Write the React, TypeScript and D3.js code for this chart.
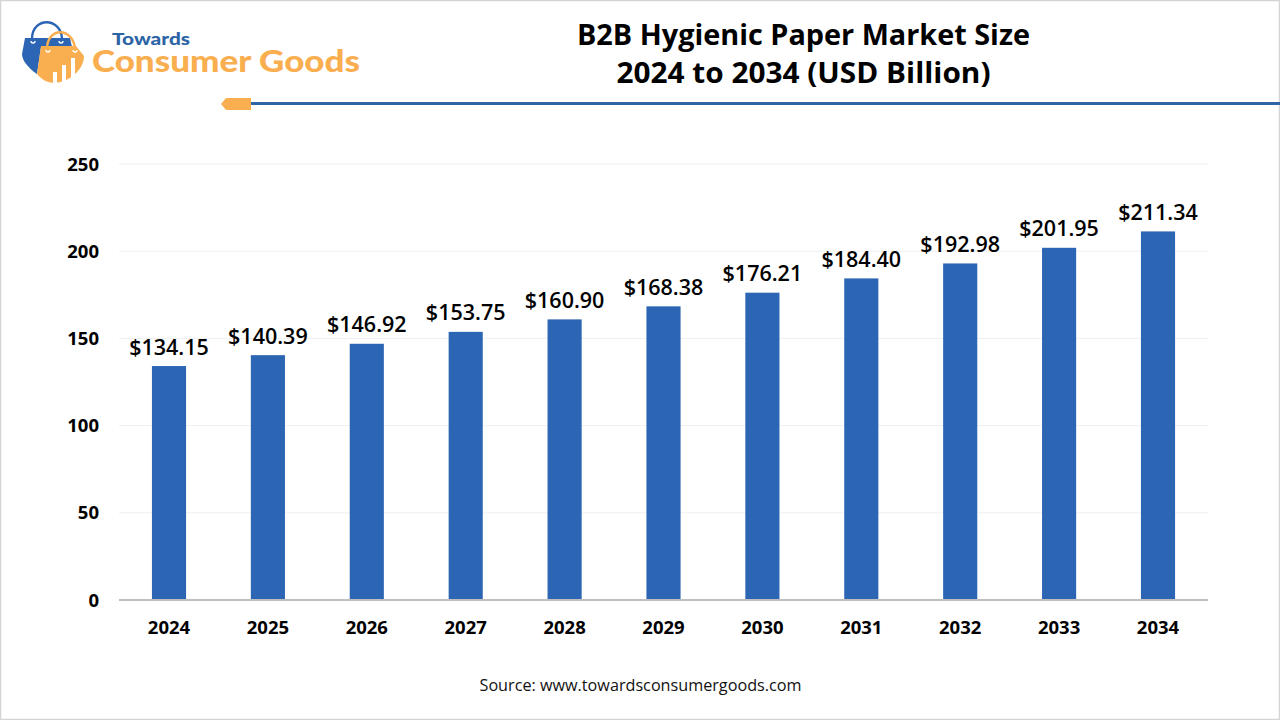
import React from "react";
import * as d3 from "d3";

const years = ["2024","2025","2026","2027","2028","2029","2030","2031","2032","2033","2034"];
const values = [134.15,140.39,146.92,153.75,160.9,168.38,176.21,184.4,192.98,201.95,211.34];
const yTicks = [0,50,100,150,200,250];
const titleLines = ["B2B Hygienic Paper Market Size","2024 to 2034 (USD Billion)"];
const source = "Source: www.towardsconsumergoods.com";

const W = 1280, H = 720;
const FONT = "'Open Sans', 'Noto Sans', sans-serif";
const BLUE = "#2B65B3", ORANGE = "#F9AE4F", LINE = "#2C64A5";

export default function App() {
  const x = d3.scaleBand<string>().domain(years).range([119.5, 1207.5]).paddingInner(0.655).paddingOuter(0.328);
  const y = d3.scaleLinear().domain([0, 250]).range([600, 164]);
  const c = (d: string) => (x(d) as number) + x.bandwidth() / 2;
  return (
    <svg width={W} height={H} viewBox={`0 0 ${W} ${H}`} style={{ position: "absolute", left: 0, top: 0, background: "#fff", fontFamily: FONT }}>
      <rect x={0.5} y={0.5} width={W - 1} height={H - 1} fill="none" stroke="#D4D4D4" strokeWidth={1.5} />

      {/* logo */}
      <g>
        <path d="M32 38 C33 17 60 17 62 38" fill="none" stroke={BLUE} strokeWidth={2.4} />
        <path d="M25 38 H70 L72 47 H41 L37 74 C28 68 22 60 22 54 Z" fill={BLUE} />
        <path d="M47 48 C48 27 72 27 75 48" fill="none" stroke={ORANGE} strokeWidth={2.4} />
        <path d="M41 46 H76 L84 56 C84 68 72 81 55 83 C47 83 41 79 37 74 Z" fill={ORANGE} />
        <g fill="#fff">
          <rect x={53} y={72} width={4} height={12} />
          <rect x={62} y={65} width={4} height={19} />
          <rect x={71} y={58} width={4} height={23} />
        </g>
        <g fill="none" stroke="#fff" strokeWidth={1.3}>
          <path d="M31 41 a2 2 0 0 0 4 0" />
          <path d="M59 41 a2 2 0 0 0 4 0" />
          <path d="M46 50 a2 2 0 0 0 4 0" />
          <path d="M73 50 a2 2 0 0 0 4 0" />
        </g>
        <text x={112} y={45} fontFamily="Lato, sans-serif" fontSize={16.5} fontWeight={900} fill={LINE} textLength={78} lengthAdjust="spacingAndGlyphs">Towards</text>
        <text x={92} y={72} fontFamily="Lato, sans-serif" fontSize={31} fontWeight={900} fill={ORANGE} textLength={268} lengthAdjust="spacingAndGlyphs">Consumer Goods</text>
      </g>

      {/* title */}
      {titleLines.map((t, i) => (
        <text key={t} x={803.5} y={45 + i * 38} textAnchor="middle" fontSize={29} fontWeight={700} fill="#000" textLength={i === 0 ? 453 : 374} lengthAdjust="spacingAndGlyphs">{t}</text>
      ))}

      {/* decorative rule */}
      <rect x={251} y={102} width={W - 251} height={3} fill={LINE} />
      <path d="M221 104 L226 98 H251 V110 H226 Z" fill={ORANGE} />

      {/* gridlines */}
      {yTicks.filter((t) => t > 0).map((t) => (
        <line key={t} x1={119} x2={1208} y1={y(t)} y2={y(t)} stroke="#EFEFEF" strokeWidth={1} />
      ))}

      {/* bars */}
      {years.map((d, i) => (
        <rect key={d} x={x(d)} y={y(values[i])} width={x.bandwidth()} height={y(0) - y(values[i])} fill={BLUE} />
      ))}
      <line x1={119} x2={1208} y1={600} y2={600} stroke="#BFBFBF" strokeWidth={2} />

      {/* y axis */}
      {yTicks.map((t) => (
        <text key={t} x={99} y={y(t) + 6.5} textAnchor="end" fontSize={18.5} fontWeight={700} fill="#000">{t}</text>
      ))}

      {/* x axis */}
      {years.map((d) => (
        <text key={d} x={c(d)} y={634} textAnchor="middle" fontSize={18.5} fontWeight={700} fill="#000">{d}</text>
      ))}

      {/* value labels */}
      {years.map((d, i) => (
        <text key={d} x={c(d)} y={y(values[i]) - 11.5} textAnchor="middle" fontSize={21.5} fontWeight={600} fill="#000">
          {d3.format("$.2f")(values[i])}
        </text>
      ))}

      <text x={640.5} y={691} textAnchor="middle" fontSize={16.2} fill="#111">{source}</text>
    </svg>
  );
}
